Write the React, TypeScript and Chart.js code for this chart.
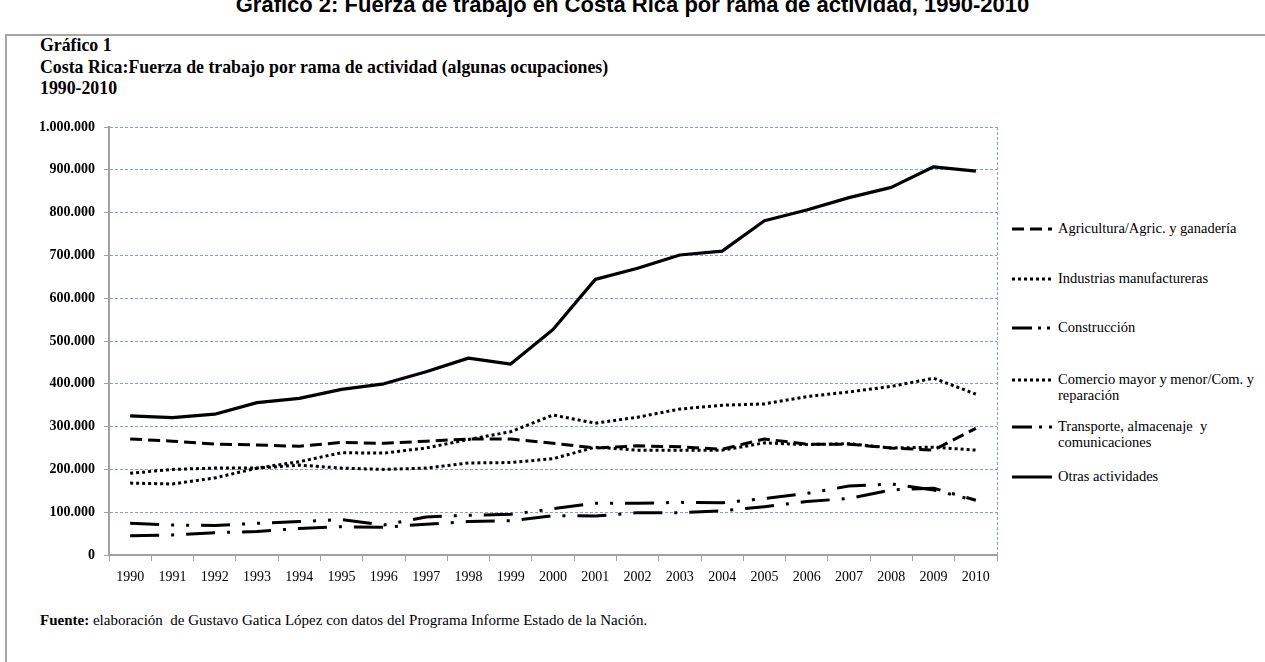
import React, { useEffect, useRef } from "react";
import { Chart, registerables } from "chart.js";

Chart.register(...registerables);

const years = ["1990", "1991", "1992", "1993", "1994", "1995", "1996", "1997", "1998", "1999", "2000", "2001", "2002", "2003", "2004", "2005", "2006", "2007", "2008", "2009", "2010"];

const agricultura = [271000, 266000, 259000, 257000, 254000, 263000, 261000, 266000, 271000, 271000, 261000, 250000, 255000, 253000, 247000, 271000, 259000, 259000, 250000, 245000, 296000];
const industrias = [191000, 200000, 203000, 203000, 210000, 203000, 200000, 203000, 215000, 216000, 225000, 252000, 245000, 245000, 245000, 262000, 258000, 260000, 250000, 252000, 245000];
const construccion = [74000, 70000, 69000, 74000, 78000, 83000, 70000, 89000, 93000, 95000, 108000, 121000, 121000, 123000, 122000, 132000, 144000, 161000, 166000, 152000, 127000];
const comercio = [168000, 166000, 180000, 203000, 218000, 239000, 238000, 250000, 270000, 288000, 327000, 308000, 322000, 341000, 350000, 353000, 370000, 381000, 394000, 413000, 376000];
const transporte = [45000, 47000, 52000, 55000, 62000, 66000, 65000, 72000, 78000, 80000, 92000, 91000, 99000, 99000, 103000, 113000, 125000, 132000, 152000, 156000, 128000];
const otras = [325000, 321000, 329000, 356000, 366000, 387000, 400000, 428000, 460000, 446000, 527000, 644000, 670000, 701000, 710000, 781000, 806000, 835000, 859000, 907000, 897000];

const seriesLabels = [
  "Agricultura/Agric. y ganadería",
  "Industrias manufactureras",
  "Construcción",
  "Comercio mayor y menor/Com. y reparación",
  "Transporte, almacenaje  y comunicaciones",
  "Otras actividades",
];

const DASH_AGRI = [12, 6];
const DASH_DOT = [3, 3];
const DASH_CONS = [29, 12, 3, 12, 3, 12];
const DASH_TRANS = [29, 12, 3, 12];
const DASH_SOLID: number[] = [];

const SERIF = "'Liberation Serif', 'Times New Roman', serif";
const GRID_BLUE = "#7ea3d4";
const AXIS_GRAY = "#a0a0a0";

const fmt = (v: number) => String(v).replace(/\B(?=(\d{3})+(?!\d))/g, ".");

const rightBorder = {
  id: "rightBorder",
  beforeDatasetsDraw(chart: any) {
    const { ctx, chartArea } = chart;
    ctx.save();
    ctx.strokeStyle = GRID_BLUE;
    ctx.lineWidth = 1;
    ctx.setLineDash([3, 2]);
    ctx.beginPath();
    ctx.moveTo(Math.round(chartArea.right) + 0.5, chartArea.top);
    ctx.lineTo(Math.round(chartArea.right) + 0.5, chartArea.bottom);
    ctx.stroke();
    ctx.restore();
  },
};

function ChartCanvas() {
  const ref = useRef<HTMLCanvasElement | null>(null);
  useEffect(() => {
    if (!ref.current) return;
    const mk = (label: string, data: number[], dash: number[], width = 3) => ({
      label,
      data,
      borderColor: "#000",
      backgroundColor: "#000",
      borderWidth: width,
      borderDash: dash,
      borderCapStyle: "butt" as const,
      borderJoinStyle: "round" as const,
      pointRadius: 0,
      pointHoverRadius: 0,
      tension: 0,
      fill: false,
    });
    const chart = new Chart(ref.current, {
      type: "line",
      data: {
        labels: years,
        datasets: [
          mk(seriesLabels[0], agricultura, DASH_AGRI),
          mk(seriesLabels[1], industrias, DASH_DOT),
          mk(seriesLabels[2], construccion, DASH_CONS),
          mk(seriesLabels[3], comercio, DASH_DOT),
          mk(seriesLabels[4], transporte, DASH_TRANS),
          mk(seriesLabels[5], otras, DASH_SOLID, 3.2),
        ],
      },
      options: {
        responsive: false,
        animation: false,
        devicePixelRatio: 1,
        events: [],
        layout: { padding: { top: 127, right: 13, left: 0, bottom: 0 } },
        plugins: {
          legend: { display: false },
          title: { display: false },
          tooltip: { enabled: false },
        },
        scales: {
          x: {
            type: "category",
            offset: true,
            afterFit: (s: any) => {
              s.height = 45;
            },
            grid: {
              display: true,
              drawOnChartArea: false,
              drawTicks: true,
              tickLength: 6,
              tickColor: AXIS_GRAY,
              tickWidth: 1,
              offset: true,
              color: AXIS_GRAY,
            },
            border: { display: true, color: AXIS_GRAY, width: 2 },
            ticks: {
              color: "#000",
              padding: 8,
              maxRotation: 0,
              autoSkip: false,
              font: { family: SERIF, size: 14 },
            },
          },
          y: {
            type: "linear",
            min: 0,
            max: 1000000,
            afterFit: (s: any) => {
              s.width = 109;
            },
            grid: {
              color: (c: any) => (c.tick && c.tick.value === 0 ? "rgba(0,0,0,0)" : GRID_BLUE),
              lineWidth: 1,
              drawTicks: true,
              tickLength: 5,
              tickColor: AXIS_GRAY,
              tickWidth: 1,
            },
            border: { display: true, color: AXIS_GRAY, width: 2, dash: [3, 2] },
            ticks: {
              stepSize: 100000,
              color: "#000",
              padding: 9,
              font: { family: SERIF, size: 14, weight: "bold" },
              callback: (v: any) => fmt(Number(v)),
            },
          },
        },
      },
      plugins: [rightBorder],
    } as any);
    return () => chart.destroy();
  }, []);
  return (
    <canvas
      ref={ref}
      width={1010}
      height={600}
      style={{ position: "absolute", left: 0, top: 0, width: 1010, height: 600 }}
    />
  );
}

function LegendSample({ dash }: { dash: number[] }) {
  return (
    <svg width={40} height={6} style={{ position: "absolute", left: 0, top: -3 }}>
      <line
        x1={0}
        y1={3}
        x2={40}
        y2={3}
        stroke="#000"
        strokeWidth={3}
        strokeDasharray={dash.length ? dash.join(" ") : undefined}
      />
    </svg>
  );
}

export default function App() {
  const legendItems = [
    { lines: ["Agricultura/Agric. y ganadería"], dash: DASH_AGRI, y: 229 },
    { lines: ["Industrias manufactureras"], dash: DASH_DOT, y: 279 },
    { lines: ["Construcción"], dash: [20, 6, 3, 6, 3, 10], y: 328 },
    { lines: ["Comercio mayor y menor/Com. y", "reparación"], dash: DASH_DOT, y: 380 },
    { lines: ["Transporte, almacenaje  y", "comunicaciones"], dash: [20, 7, 3, 7, 4, 20], y: 427 },
    { lines: ["Otras actividades"], dash: DASH_SOLID, y: 477 },
  ];
  return (
    <div style={{ position: "absolute", left: 0, top: 0, width: 1265, height: 662, overflow: "hidden", background: "#fff" }}>
      <div
        style={{
          position: "absolute",
          left: 0,
          top: -6,
          width: 1265,
          textAlign: "center",
          fontFamily: "'Liberation Sans', Arial, sans-serif",
          fontWeight: "bold",
          fontSize: 22,
          lineHeight: "22px",
          color: "#000",
          whiteSpace: "nowrap",
        }}
      >
        Gráfico 2: Fuerza de trabajo en Costa Rica por rama de actividad, 1990-2010
      </div>
      <div
        style={{
          position: "absolute",
          left: 5,
          top: 34,
          width: 1262,
          height: 640,
          borderTop: "2px solid #a5a5a5",
          borderLeft: "2px solid #a5a5a5",
        }}
      />
      <div
        style={{
          position: "absolute",
          left: 40,
          top: 35,
          fontFamily: SERIF,
          fontWeight: "bold",
          fontSize: 17.8,
          lineHeight: "21.5px",
          color: "#000",
          whiteSpace: "nowrap",
        }}
      >
        <div>Gráfico 1</div>
        <div>Costa Rica:Fuerza de trabajo por rama de actividad (algunas ocupaciones)</div>
        <div>1990-2010</div>
      </div>
      <ChartCanvas />
      {legendItems.map((it, i) => (
        <div key={i} style={{ position: "absolute", left: 1012, top: it.y }}>
          <LegendSample dash={it.dash} />
          <div
            style={{
              position: "absolute",
              left: 46,
              top: -8,
              fontFamily: SERIF,
              fontSize: 14.5,
              lineHeight: "15.5px",
              color: "#000",
              whiteSpace: "pre",
            }}
          >
            {it.lines.map((l, j) => (
              <div key={j}>{l}</div>
            ))}
          </div>
        </div>
      ))}
      <div
        style={{
          position: "absolute",
          left: 40,
          top: 611,
          fontFamily: SERIF,
          fontSize: 15,
          lineHeight: "18px",
          color: "#000",
          whiteSpace: "pre",
        }}
      >
        <b>Fuente:</b> elaboración  de Gustavo Gatica López con datos del Programa Informe Estado de la Nación.
      </div>
    </div>
  );
}
